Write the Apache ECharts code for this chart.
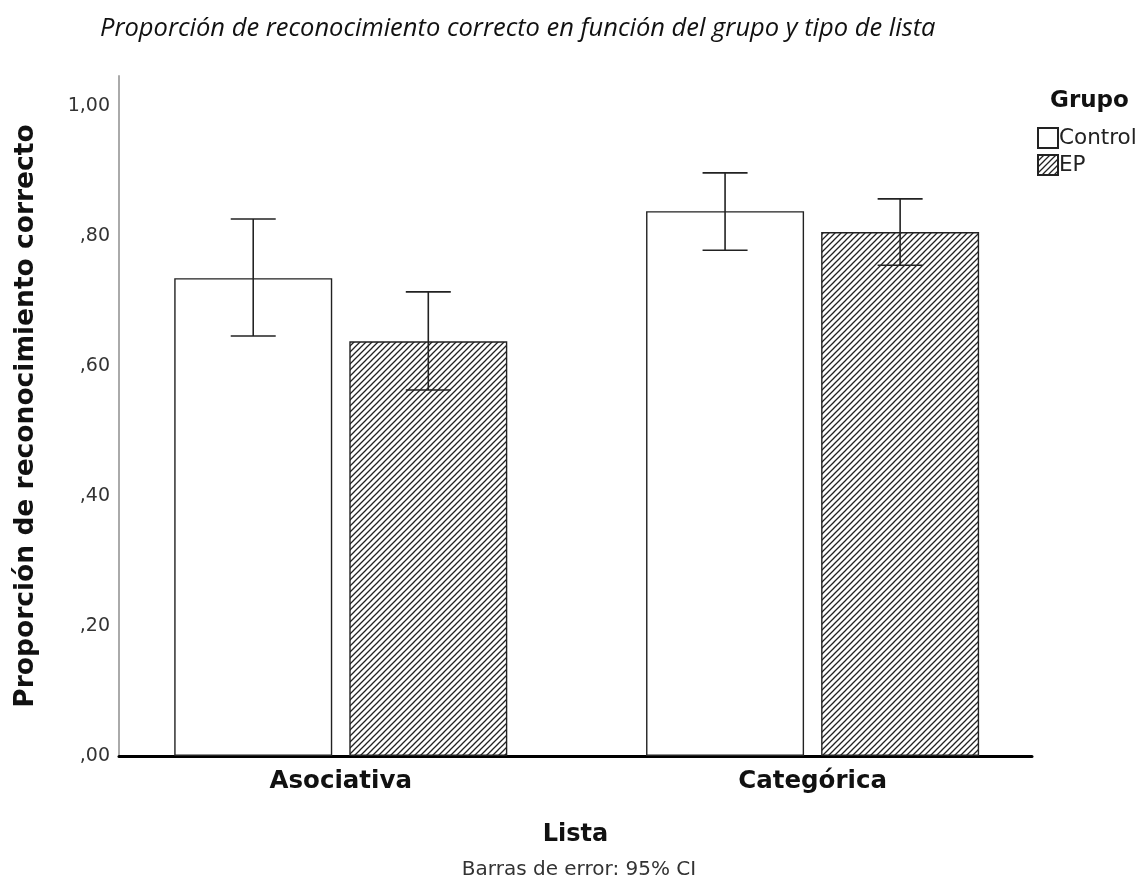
<!DOCTYPE html>
<html><head><meta charset="utf-8">
<script src="https://cdn.jsdelivr.net/npm/echarts@6/dist/echarts.min.js"></script>
<style>html,body{margin:0;padding:0;background:#fff}#c{width:1142px;height:893px}</style>
</head><body><div id="c"></div>
<script>
const categories = ['Asociativa', 'Categórica'];
const groups = ['Control', 'EP'];
const controlMean = [0.735, 0.838];
const controlLow  = [0.646, 0.778];
const controlHigh = [0.826, 0.897];
const epMean = [0.638, 0.806];
const epLow  = [0.563, 0.755];
const epHigh = [0.714, 0.857];
const yTicks = [0, 0.2, 0.4, 0.6, 0.8, 1.0];

function hatch() {
  const s = 6;
  const c = document.createElement('canvas'); c.width = s; c.height = s;
  const g = c.getContext('2d');
  g.fillStyle = '#fff'; g.fillRect(0, 0, s, s);
  g.strokeStyle = '#222'; g.lineWidth = 1.3;
  g.beginPath();
  g.moveTo(-1, s + 1); g.lineTo(s + 1, -1);
  g.moveTo(-1, 1); g.lineTo(1, -1);
  g.moveTo(s - 1, s + 1); g.lineTo(s + 1, s - 1);
  g.stroke();
  return c;
}

const BAR_W = 158, GAP_PCT = 10.8;
const OFF = (BAR_W + BAR_W * GAP_PCT / 100) / 2;
const CAP = 22.5;

function errRender(offset) {
  return function (params, api) {
    const x = api.value(0);
    const lo = api.coord([x, api.value(1)]);
    const hi = api.coord([x, api.value(2)]);
    const cx = lo[0] + offset;
    const st = { stroke: '#222', lineWidth: 1.6 };
    return { type: 'group', children: [
      { type: 'line', shape: { x1: cx, y1: lo[1], x2: cx, y2: hi[1] }, style: st },
      { type: 'line', shape: { x1: cx - CAP, y1: lo[1], x2: cx + CAP, y2: lo[1] }, style: st },
      { type: 'line', shape: { x1: cx - CAP, y1: hi[1], x2: cx + CAP, y2: hi[1] }, style: st }
    ]};
  };
}

const chart = echarts.init(document.getElementById('c'), null, { renderer: 'canvas' });
const FF = 'DejaVu Sans';
chart.setOption({
  animation: false,
  backgroundColor: '#fff',
  title: [
    { text: 'Proporción de reconocimiento correcto en función del grupo y tipo de lista',
      left: 95, top: 11,
      textStyle: { fontFamily: 'Open Sans', fontStyle: 'italic', fontWeight: 'normal', fontSize: 25.5, color: '#111' } },
    { text: 'Grupo', left: 1045, top: 85,
      textStyle: { fontFamily: FF, fontWeight: 'bold', fontSize: 23, color: '#111' } },
    { text: 'Barras de error: 95% CI', left: 574, textAlign: 'center', top: 855,
      textStyle: { fontFamily: FF, fontWeight: 'normal', fontSize: 20, color: '#333' } }
  ],
  legend: {
    data: groups, orient: 'vertical', left: 1032, top: 122,
    itemWidth: 20, itemHeight: 20, itemGap: 5, icon: 'rect',
    textStyle: { fontFamily: FF, fontSize: 21.5, color: '#222', padding: [0, 0, 0, -4] }
  },
  grid: { left: 119, right: 110, top: 76, bottom: 137, containLabel: false },
  xAxis: {
    type: 'value', min: -0.47, max: 1.465,
    splitLine: { show: false },
    axisTick: { show: false },
    axisLine: { show: true, onZero: false, lineStyle: { color: '#000', width: 3 } },
    axisLabel: { customValues: [0, 1], formatter: v => categories[Math.round(v)],
      fontFamily: FF, fontWeight: 'bold', fontSize: 24.5, color: '#111', margin: 13 },
    name: 'Lista', nameLocation: 'middle', nameGap: 67,
    nameTextStyle: { fontFamily: FF, fontWeight: 'bold', fontSize: 24, color: '#111' }
  },
  yAxis: {
    type: 'value', min: 0, max: 1.046, interval: 0.2,
    splitLine: { show: false },
    axisTick: { show: false },
    axisLine: { show: true, onZero: false, lineStyle: { color: '#aaa', width: 2 } },
    axisLabel: { customValues: yTicks,
      formatter: v => v >= 1 ? '1,00' : ',' + v.toFixed(2).slice(2),
      fontFamily: FF, fontSize: 19, color: '#333', margin: 9 },
    name: 'Proporción de reconocimiento correcto', nameLocation: 'middle', nameGap: 79,
    nameTextStyle: { fontFamily: FF, fontWeight: 'bold', fontSize: 26.5, color: '#111' }
  },
  series: [
    { name: 'Control', type: 'bar', barWidth: BAR_W, barGap: GAP_PCT + '%',
      data: controlMean.map((v, i) => [i, v]),
      itemStyle: { color: '#fff', borderColor: '#222', borderWidth: 1.4 } },
    { name: 'EP', type: 'bar', barWidth: BAR_W, barGap: GAP_PCT + '%',
      data: epMean.map((v, i) => [i, v]),
      itemStyle: { color: { image: hatch(), repeat: 'repeat' }, borderColor: '#222', borderWidth: 1.4 } },
    { name: 'errControl', type: 'custom', renderItem: errRender(-OFF), z: 5,
      encode: { x: 0, y: [1, 2] },
      data: controlMean.map((v, i) => [i, controlLow[i], controlHigh[i]]) },
    { name: 'errEP', type: 'custom', renderItem: errRender(OFF), z: 5,
      encode: { x: 0, y: [1, 2] },
      data: epMean.map((v, i) => [i, epLow[i], epHigh[i]]) }
  ]
});
</script>
</body></html>
